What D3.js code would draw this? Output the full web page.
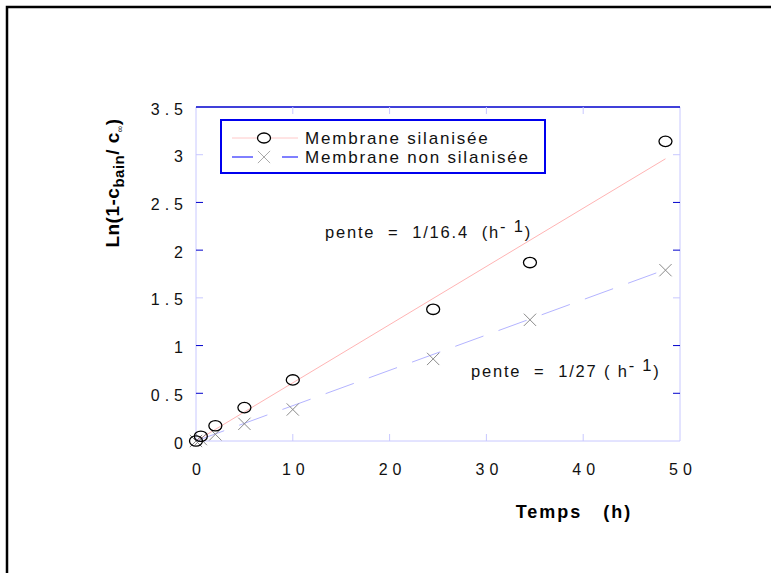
<!DOCTYPE html>
<html>

<head>
    <meta charset="utf-8">
    <style>
        body {
            margin: 0;
            background: white;
        }

        svg {
            display: block;
            font-family: 'Liberation Sans', Arial, sans-serif;
        }

        .tick-label {
            font-size: 16px;
            letter-spacing: 5px;
            fill: #111;
        }

        .note {
            font-size: 16.5px;
            letter-spacing: 1.8px;
            fill: #111;
            white-space: pre;
        }

        .legend-label {
            font-size: 17px;
            letter-spacing: 1.8px;
            fill: #111;
        }
    </style>
</head>

<body>
    <svg width="771" height="573"></svg>
</body>

<script src="https://cdn.jsdelivr.net/npm/d3@7"></script>

<script>
    // measured values (hours, ln value)
    let temps = [0, 0.5, 2, 5, 10, 24.5, 34.5, 48.5]
    let silanisee = [0, 0.05, 0.16, 0.35, 0.64, 1.38, 1.87, 3.14]
    let nonSilanisee = [0, 0.02, 0.07, 0.18, 0.33, 0.86, 1.27, 1.79]

    // fitted slopes (1/h) and the time span of the fits
    let pentes = [1 / 16.4, 1 / 27]
    let fitRange = [0, 48.5]

    let xTicks = [0, 10, 20, 30, 40, 50]
    let yTicks = [0, 0.5, 1, 1.5, 2, 2.5, 3, 3.5]
    let darkYTicks = [0.5, 1, 2, 2.5] // these tick marks print darker

    let legendLabels = ["Membrane silanisée", "Membrane non silanisée"]

    let svg = d3.select("svg")

    // outer frame (only top and left edges show)
    svg.append("rect")
        .attr("x", 7).attr("y", 7)
        .attr("width", 800).attr("height", 600)
        .attr("fill", "none")
        .attr("stroke", "black")
        .attr("stroke-width", 2.5)

    let margin = { top: 107, right: 91, bottom: 132, left: 196 }
    let width = 771, height = 573

    let x = d3.scaleLinear()
        .domain([0, 50])
        .range([margin.left, width - margin.right])

    let y = d3.scaleLinear()
        .domain([0, 3.5])
        .range([height - margin.bottom, margin.top])

    let light = "#c8c8ff"
    let dark = "#0000cc"

    // plot box
    let box = svg.append("g")
    box.append("line")
        .attr("x1", x(0)).attr("x2", x(50)).attr("y1", y(0)).attr("y2", y(0))
        .attr("stroke", light)
    box.append("line")
        .attr("x1", x(0)).attr("x2", x(0)).attr("y1", y(0)).attr("y2", y(3.5))
        .attr("stroke", light)
    box.append("line")
        .attr("x1", x(50)).attr("x2", x(50)).attr("y1", y(0)).attr("y2", y(3.5))
        .attr("stroke", light)
    box.append("line")
        .attr("x1", x(0)).attr("x2", x(50)).attr("y1", y(3.5)).attr("y2", y(3.5))
        .attr("stroke", dark).attr("stroke-width", 1.5)

    // tick marks, pointing inward on all four sides
    let tickLen = 7
    let xt = xTicks.filter(d => d > 0 && d < 50)
    svg.append("g").selectAll("line")
        .data(xt)
        .join("line")
        .attr("x1", d => x(d)).attr("x2", d => x(d))
        .attr("y1", y(0)).attr("y2", y(0) - tickLen)
        .attr("stroke", light)
    svg.append("g").selectAll("line")
        .data(xt)
        .join("line")
        .attr("x1", d => x(d)).attr("x2", d => x(d))
        .attr("y1", y(3.5)).attr("y2", y(3.5) + tickLen)
        .attr("stroke", light)

    let yt = yTicks.filter(d => d > 0 && d < 3.5)
    let tickColor = d => darkYTicks.includes(d) ? dark : light
    svg.append("g").selectAll("line")
        .data(yt)
        .join("line")
        .attr("x1", x(0)).attr("x2", x(0) + tickLen)
        .attr("y1", d => y(d)).attr("y2", d => y(d))
        .attr("stroke", tickColor)
    svg.append("g").selectAll("line")
        .data(yt)
        .join("line")
        .attr("x1", x(50)).attr("x2", x(50) - tickLen)
        .attr("y1", d => y(d)).attr("y2", d => y(d))
        .attr("stroke", tickColor)

    // tick labels (letter-spacing adds a trailing gap, compensate)
    svg.append("g").selectAll("text")
        .data(xTicks)
        .join("text")
        .attr("class", "tick-label")
        .attr("x", d => x(d) + 3)
        .attr("y", y(0) + 34)
        .attr("text-anchor", "middle")
        .text(d => d)

    svg.append("g").selectAll("text")
        .data(yTicks)
        .join("text")
        .attr("class", "tick-label")
        .attr("x", x(0) - 13 + 5)
        .attr("y", d => y(d) + 7.5)
        .attr("text-anchor", "end")
        .text(d => d)

    // axis titles
    svg.append("text")
        .attr("x", 574)
        .attr("y", 518)
        .attr("text-anchor", "middle")
        .attr("font-size", 18)
        .attr("font-weight", "bold")
        .attr("letter-spacing", 2)
        .style("white-space", "pre")
        .text("Temps   (h)")

    let yTitle = svg.append("text")
        .attr("transform", "translate(119,183) rotate(-90)")
        .attr("text-anchor", "middle")
        .attr("font-size", 19)
        .attr("font-weight", "bold")
        .attr("letter-spacing", 0.5)
    yTitle.append("tspan").text("Ln(1-c")
    yTitle.append("tspan").attr("dy", 5).attr("font-size", 15).text("bain")
    yTitle.append("tspan").attr("dy", -5).text("/ c")
    yTitle.append("tspan").attr("dy", 4).attr("font-size", 9).attr("font-weight", "normal").text("∞")
    yTitle.append("tspan").attr("dy", -4).text(")")

    // fitted lines
    let line = d3.line()
        .x(d => x(d[0]))
        .y(d => y(d[1]))

    svg.append("path")
        .attr("d", line(fitRange.map(t => [t, t * pentes[0]])))
        .attr("fill", "none")
        .attr("stroke", "#ffb4b4")
        .attr("stroke-width", 1)

    svg.append("path")
        .attr("d", line(fitRange.map(t => [t, t * pentes[1]])))
        .attr("fill", "none")
        .attr("stroke", "#b4b4ff")
        .attr("stroke-width", 1)
        .attr("stroke-dasharray", "30,16")

    // crosses (non silanisee)
    let cross = d3.symbol().type(d3.symbolX).size(100)
    svg.append("g").selectAll("path")
        .data(temps.map((t, i) => [t, nonSilanisee[i]]))
        .join("path")
        .attr("d", cross)
        .attr("transform", d => `translate(${x(d[0])},${y(d[1])})`)
        .attr("fill", "none")
        .attr("stroke", "#8a8a8a")
        .attr("stroke-width", 1)

    // circles (silanisee)
    svg.append("g").selectAll("ellipse")
        .data(temps.map((t, i) => [t, silanisee[i]]))
        .join("ellipse")
        .attr("cx", d => x(d[0]))
        .attr("cy", d => y(d[1]))
        .attr("rx", 6.5)
        .attr("ry", 5.2)
        .attr("fill", "none")
        .attr("stroke", "black")
        .attr("stroke-width", 1.3)

    // slope notes
    let n1 = svg.append("text").attr("class", "note").attr("x", 325).attr("y", 238)
    n1.append("tspan").text("pente  =  1/16.4  (h")
    n1.append("tspan").attr("dy", -6).text("- 1")
    n1.append("tspan").attr("dy", 6).text(")")

    let n2 = svg.append("text").attr("class", "note").attr("x", 471).attr("y", 377)
    n2.append("tspan").text("pente  =  1/27 ( h")
    n2.append("tspan").attr("dy", -6).text("- 1")
    n2.append("tspan").attr("dy", 6).text(")")

    // legend
    let legend = svg.append("g")
    legend.append("rect")
        .attr("x", 221).attr("y", 120)
        .attr("width", 324).attr("height", 53)
        .attr("fill", "white")
        .attr("stroke", "#0000ee")
        .attr("stroke-width", 2)

    let rows = legendLabels.map((label, i) => ({ label: label, y: 138 + i * 19 }))

    legend.append("line")
        .attr("x1", 232).attr("x2", 298).attr("y1", rows[0].y).attr("y2", rows[0].y)
        .attr("stroke", "#ffc8c8")
    legend.append("ellipse")
        .attr("cx", 264).attr("cy", rows[0].y)
        .attr("rx", 6.5).attr("ry", 5)
        .attr("fill", "white")
        .attr("stroke", "black")
        .attr("stroke-width", 1.3)

    legend.append("line")
        .attr("x1", 232).attr("x2", 298).attr("y1", rows[1].y).attr("y2", rows[1].y)
        .attr("stroke", "#0000ff")
        .attr("stroke-dasharray", "21,29,16")
    legend.append("path")
        .attr("d", cross)
        .attr("transform", `translate(264,${rows[1].y})`)
        .attr("fill", "none")
        .attr("stroke", "#aaa")

    legend.selectAll("text.lab")
        .data(rows)
        .join("text")
        .attr("class", "legend-label")
        .attr("x", 305)
        .attr("y", d => d.y + 6)
        .text(d => d.label)
</script>

</html>
